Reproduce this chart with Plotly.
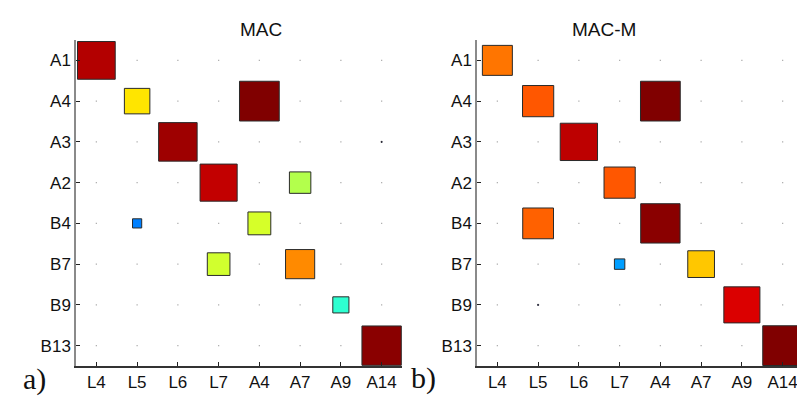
import numpy as np
import plotly.graph_objects as go

# Row (mode pairs) and column labels
rows = ["A1", "A4", "A3", "A2", "B4", "B7", "B9", "B13"]
cols = ["L4", "L5", "L6", "L7", "A4", "A7", "A9", "A14"]

# MAC values
mac = [
    [0.95, 0, 0, 0, 0, 0, 0, 0],
    [0, 0.65, 0, 0, 1.0, 0, 0, 0],
    [0, 0, 0.97, 0, 0, 0, 0, 0.05],
    [0, 0, 0, 0.935, 0, 0.55, 0, 0],
    [0, 0.25, 0, 0, 0.585, 0, 0, 0],
    [0, 0, 0, 0.58, 0, 0.74, 0, 0],
    [0, 0, 0, 0, 0, 0, 0.42, 0],
    [0, 0, 0, 0, 0, 0, 0, 0.99],
]

# MAC-M values
mac_m = [
    [0.76, 0, 0, 0, 0, 0, 0, 0],
    [0, 0.79, 0, 0, 1.0, 0, 0, 0],
    [0, 0, 0.94, 0, 0, 0, 0, 0],
    [0, 0, 0, 0.79, 0, 0, 0, 0],
    [0, 0.78, 0, 0, 0.99, 0, 0, 0],
    [0, 0, 0, 0.28, 0, 0.68, 0, 0],
    [0, 0.05, 0, 0, 0, 0, 0.91, 0],
    [0, 0, 0, 0, 0, 0, 0, 1.0],
]

# matlab style jet
JET = [[0, "rgb(0,0,128)"], [0.125, "rgb(0,0,255)"], [0.375, "rgb(0,255,255)"],
       [0.625, "rgb(255,255,0)"], [0.875, "rgb(255,0,0)"], [1, "rgb(128,0,0)"]]

CELL = 40.75  # px per unit on both axes
W, H = 797, 396


def px(xr):  # window x pixel -> paper fraction
    return xr / W


def py(yr):  # window y pixel -> paper fraction
    return 1 - yr / H


fig = go.Figure()


def add_panel(mat, xa, ya):
    m = np.array(mat, dtype=float)
    r, c = np.nonzero(m >= 0)
    v = m[r, c]
    big = v > 0.01
    # tiny dots for the empty cells
    fig.add_trace(go.Scatter(
        x=c[~big] + 1, y=r[~big] + 1, mode="markers", xaxis=xa, yaxis=ya,
        marker=dict(symbol="square", size=1.3, color="#b0b0b0", opacity=1),
        showlegend=False, hoverinfo="skip"))
    fig.add_trace(go.Scatter(
        x=c[big] + 1, y=r[big] + 1, mode="markers", xaxis=xa, yaxis=ya,
        marker=dict(symbol="square", size=np.maximum(v[big] * CELL - 1, 1),
                    color=v[big], colorscale=JET, cmin=0, cmax=1, opacity=1,
                    line=dict(color="#2a2a2a", width=1)),
        showlegend=False))


add_panel(mac, "x", "y")
add_panel(mac_m, "x2", "y2")

ax_common = dict(
    showgrid=False, zeroline=False, showline=True, linewidth=1.5,
    ticks="inside", ticklen=4, tickcolor="#222",
    tickfont=dict(family="Liberation Sans, Arial", size=17, color="#111"),
    tickvals=list(range(1, 9)), ticklabeloverflow="allow",
)

y_dom = [py(366), py(40)]

fig.update_layout(
    width=W, height=H,
    margin=dict(l=0, r=0, t=0, b=0),
    paper_bgcolor="white", plot_bgcolor="white",
    xaxis=dict(ax_common, domain=[px(76), px(402)], range=[0.5, 8.5],
               ticktext=cols, linecolor="#333", anchor="y"),
    yaxis=dict(ax_common, domain=y_dom, range=[8.5, 0.5],
               ticktext=rows, linecolor="#8a8a8a", anchor="x"),
    xaxis2=dict(ax_common, domain=[px(477), 1], range=[0.5, 0.5 + (W - 477) / CELL],
                ticktext=cols, linecolor="#333", anchor="y2"),
    yaxis2=dict(ax_common, domain=y_dom, range=[8.5, 0.5],
                ticktext=rows, linecolor="#8a8a8a", anchor="x2"),
)

title_font = dict(family="Liberation Sans, Arial", size=19, color="#111")
label_font = dict(family="Liberation Serif, Times New Roman", size=30, color="#111")
fig.add_annotation(text="MAC", x=px(238), y=py(17), xref="paper", yref="paper",
                   showarrow=False, font=title_font)
fig.add_annotation(text="MAC-M", x=px(638), y=py(17), xref="paper", yref="paper",
                   showarrow=False, font=title_font)
fig.add_annotation(text="a)", x=px(21), y=py(398), xref="paper", yref="paper",
                   showarrow=False, font=label_font)
fig.add_annotation(text="b)", x=px(423), y=py(397), xref="paper", yref="paper",
                   showarrow=False, font=label_font)

# drop the default page margin so the figure fills the window exactly
fig.write_html("out.html",
               config={"displayModeBar": False},
               post_script="document.body.style.margin='0';"
                           "document.body.style.overflow='hidden';")
